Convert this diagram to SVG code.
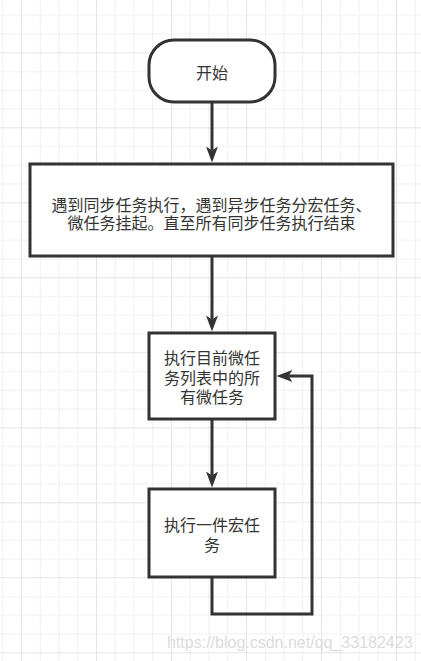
<svg xmlns="http://www.w3.org/2000/svg" width="421" height="661" viewBox="0 0 421 661">
<style>
.shape{fill:#ffffff;stroke:#333333;stroke-width:3}
.edge{fill:none;stroke:#333333;stroke-width:3}
.lbl{font-family:"Microsoft YaHei","Noto Sans CJK SC",sans-serif;font-size:16px;fill:#333333;text-anchor:middle}
.wm{font-family:"Liberation Sans",Arial,sans-serif;font-size:16px;fill:#dcdcdc;text-anchor:start}
</style>
<defs>
<pattern id="grid" patternUnits="userSpaceOnUse" x="21" y="52.3" width="75" height="75">
<path d="M0 0.5H75M0 19.25H75M0 38H75M0 56.75H75M0.5 0V75M19.25 0V75M38 0V75M56.75 0V75" fill="none" stroke="#f0f0f0" stroke-width="1"/>
<path d="M0 0.5H75M0.5 0V75" fill="none" stroke="#e4e4e4" stroke-width="1"/>
</pattern>
<marker id="arrow" markerUnits="userSpaceOnUse" markerWidth="16" markerHeight="12" refX="4" refY="6" orient="auto">
<path d="M0 0L16 6L0 12L4 6Z" fill="#333333"/>
</marker>
</defs>
<rect x="0" y="0" width="421" height="661" fill="#ffffff"/>
<rect x="0" y="0" width="421" height="661" fill="url(#grid)"/>
<g id="connectors">
<path class="edge" d="M212 102V150.5" marker-end="url(#arrow)"/>
<path class="edge" d="M212 256V319.5" marker-end="url(#arrow)"/>
<path class="edge" d="M212 419V475.5" marker-end="url(#arrow)"/>
<path class="edge" d="M212 577V614H312V376H288.5" marker-end="url(#arrow)"/>
</g>
<g id="start">
<rect class="shape" x="149" y="40" width="126" height="62" rx="25" ry="25"/>
<text class="lbl" x="212" y="79">开始</text>
</g>
<g id="sync">
<rect class="shape" x="30" y="164" width="363" height="92"/>
<text class="lbl" x="211.5" y="211">遇到同步任务执行，遇到异步任务分宏任务、</text>
<text class="lbl" x="211.5" y="229">微任务挂起。直至所有同步任务执行结束</text>
</g>
<g id="micro">
<rect class="shape" x="149" y="333" width="126" height="86"/>
<text class="lbl" x="212" y="364">执行目前微任</text>
<text class="lbl" x="212" y="383.5">务列表中的所</text>
<text class="lbl" x="212" y="403">有微任务</text>
</g>
<g id="macro">
<rect class="shape" x="149" y="489" width="126" height="88"/>
<text class="lbl" x="212" y="531">执行一件宏任</text>
<text class="lbl" x="212" y="551">务</text>
</g>
<text class="wm" x="167" y="648">https://blog.csdn.net/qq_33182423</text>
</svg>
